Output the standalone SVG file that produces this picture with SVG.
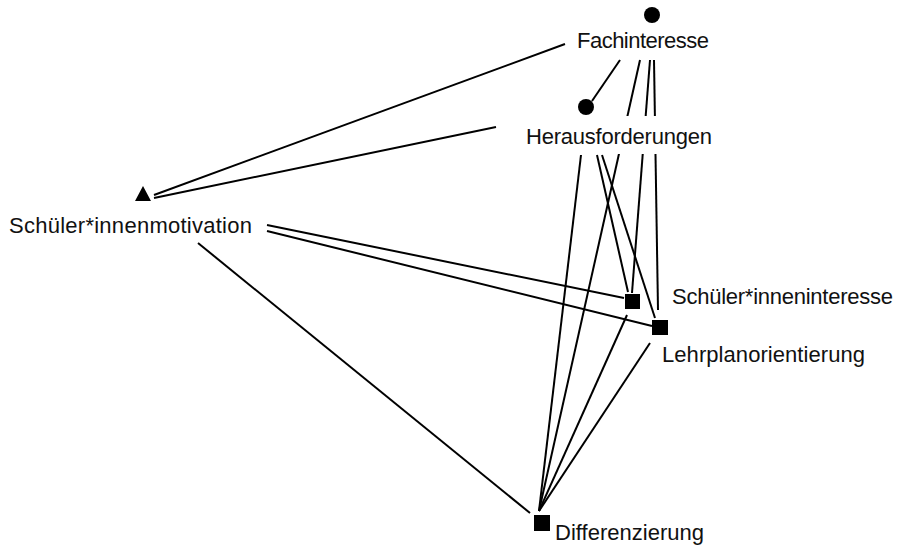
<svg xmlns="http://www.w3.org/2000/svg" width="903" height="547" viewBox="0 0 903 547">
<style>
.e{stroke:#000;stroke-width:2;fill:none;stroke-linecap:butt}
.t{font-family:"Liberation Sans",Arial,sans-serif;font-size:22px;fill:#111}
.m{fill:#000}
</style>
<rect width="903" height="547" fill="#fff"/>
<g id="connectors" class="e">
<line x1="565" y1="44" x2="154" y2="195"/>
<line x1="620" y1="60" x2="592" y2="101"/>
<line x1="640" y1="60" x2="539" y2="511"/>
<line x1="650" y1="60" x2="632" y2="293"/>
<line x1="654" y1="60" x2="658" y2="310"/>
<line x1="581" y1="155" x2="539" y2="511"/>
<line x1="597" y1="155" x2="628" y2="292"/>
<line x1="602" y1="155" x2="655" y2="318"/>
<line x1="496" y1="127" x2="154" y2="198"/>
<line x1="267" y1="225" x2="624" y2="298"/>
<line x1="267" y1="231" x2="652" y2="326"/>
<line x1="198" y1="243" x2="530" y2="513"/>
<line x1="627" y1="315" x2="539" y2="511"/>
<line x1="650" y1="343" x2="539" y2="511"/>
</g>
<g id="fachinteresse">
<circle class="m" cx="652" cy="15" r="8"/>
<text class="t" x="577" y="48" textLength="132">Fachinteresse</text>
</g>
<g id="herausforderungen">
<rect x="518" y="116" width="202" height="38" fill="#fff"/>
<circle class="m" cx="586" cy="107" r="8"/>
<text class="t" x="526" y="144" textLength="186">Herausforderungen</text>
</g>
<g id="schuelerinnenmotivation">
<polygon class="m" points="143,186 151,201 135,201"/>
<text class="t" x="9" y="233" textLength="243">Schüler*innenmotivation</text>
</g>
<g id="schuelerinneninteresse">
<rect class="m" x="625" y="294" width="15" height="15"/>
<text class="t" x="672" y="304" textLength="221">Schüler*inneninteresse</text>
</g>
<g id="lehrplanorientierung">
<rect class="m" x="652" y="320" width="16" height="15"/>
<text class="t" x="662" y="362" textLength="203">Lehrplanorientierung</text>
</g>
<g id="differenzierung">
<rect class="m" x="534" y="515" width="16" height="16"/>
<text class="t" x="555" y="540" textLength="149">Differenzierung</text>
</g>
</svg>
